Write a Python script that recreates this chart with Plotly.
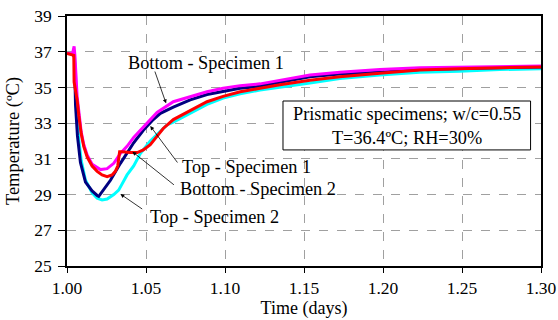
import plotly.graph_objects as go

# ---------------- data ----------------
t_top1 = [1.0000, 1.0035, 1.0047, 1.0054, 1.0066, 1.0085, 1.0117, 1.0159, 1.0191, 1.0201,
          1.0275, 1.0338, 1.0422, 1.0483, 1.0546, 1.0591, 1.0673, 1.0780, 1.0886, 1.0988,
          1.1096, 1.1201, 1.1348, 1.1538, 1.1727, 1.1980, 1.2233, 1.2485, 1.2738, 1.3000]
T_top1 = [36.9, 36.9, 36.7, 34.0, 32.3, 30.8, 29.7, 29.2, 28.95, 28.9,
          29.8, 30.75, 31.9, 32.6, 33.2, 33.55, 33.9, 34.3, 34.6, 34.76,
          34.95, 35.05, 35.3, 35.6, 35.75, 35.85, 36.0, 36.05, 36.1, 36.15]

t_bot1 = [1.0000, 1.0035, 1.0045, 1.0050, 1.0064, 1.0075, 1.0090, 1.0106, 1.0128, 1.0159,
          1.0191, 1.0212, 1.0254, 1.0296, 1.0338, 1.0380, 1.0422, 1.0464, 1.0507, 1.0570,
          1.0673, 1.0780, 1.0886, 1.0988, 1.1096, 1.1222, 1.1348, 1.1538, 1.1727, 1.1980,
          1.2233, 1.2485, 1.2738, 1.3000]
T_bot1 = [36.9, 36.9, 37.3, 36.8, 34.5, 33.5, 32.5, 31.8, 31.2, 30.7,
          30.5, 30.4, 30.45, 30.75, 31.3, 31.7, 32.2, 32.6, 33.0, 33.6,
          34.2, 34.5, 34.76, 34.95, 35.1, 35.2, 35.4, 35.7, 35.85, 36.0,
          36.1, 36.12, 36.15, 36.2]

t_bot2 = [1.0000, 1.0035, 1.0043, 1.0045, 1.0064, 1.0075, 1.0090, 1.0106, 1.0128, 1.0159,
          1.0191, 1.0222, 1.0254, 1.0285, 1.0306, 1.0321, 1.0333, 1.0351, 1.0400, 1.0445,
          1.0483, 1.0527, 1.0570, 1.0609, 1.0673, 1.0780, 1.0886, 1.0988, 1.1096, 1.1222,
          1.1348, 1.1538, 1.1727, 1.1980, 1.2233, 1.2485, 1.2738, 1.3000]
T_bot2 = [36.9, 36.8, 36.8, 35.3, 34.3, 33.4, 32.4, 31.7, 31.1, 30.6,
          30.3, 30.1, 30.0, 30.1, 30.3, 30.6, 31.4, 31.4, 31.35, 31.35,
          31.5, 31.8, 32.3, 32.7, 33.2, 33.7, 34.2, 34.5, 34.76, 34.95,
          35.15, 35.4, 35.6, 35.8, 35.97, 36.05, 36.1, 36.15]

t_top2 = [1.0000, 1.0035, 1.0047, 1.0054, 1.0060, 1.0075, 1.0090, 1.0117, 1.0159, 1.0191,
          1.0222, 1.0254, 1.0296, 1.0327, 1.0349, 1.0380, 1.0422, 1.0464, 1.0527, 1.0633,
          1.0673, 1.0780, 1.0886, 1.0988, 1.1096, 1.1222, 1.1348, 1.1538, 1.1727, 1.1980,
          1.2233, 1.2485, 1.2738, 1.3000]
T_top2 = [36.9, 36.9, 36.8, 35.8, 33.9, 32.05, 30.9, 29.8, 29.1, 28.8,
          28.7, 28.75, 29.0, 29.25, 29.6, 30.1, 30.6, 31.3, 32.0, 32.9,
          33.05, 33.55, 34.05, 34.4, 34.65, 34.85, 35.0, 35.25, 35.5, 35.7,
          35.85, 35.9, 36.0, 36.05]

series = [
    ("Top - Specimen 2", t_top2, T_top2, "#00FFFF"),
    ("Top - Specimen 1", t_top1, T_top1, "#000080"),
    ("Bottom - Specimen 1", t_bot1, T_bot1, "#FF00FF"),
    ("Bottom - Specimen 2", t_bot2, T_bot2, "#FF0000"),
]

x_ticks = [1.00, 1.05, 1.10, 1.15, 1.20, 1.25, 1.30]
y_ticks = [25, 27, 29, 31, 33, 35, 37, 39]

FONT = "Times New Roman"

fig = go.Figure()
for name, xs, ys, col in series:
    fig.add_trace(go.Scatter(x=xs, y=ys, mode="lines", name=name,
                             line=dict(color=col, width=3), showlegend=False))

# labels with arrows: (text, tip x, tip y, tail dx, tail dy, text x, text y)
labels = [
    ("Bottom - Specimen 1", 1.0627, 34.11, -11.7, -33.3, 1.0374, 36.37),
    ("Top - Specimen 1", 1.0527, 32.84, 28.3, 38, 1.0717, 30.55),
    ("Bottom - Specimen 2", 1.0414, 31.40, 43, 34.3, 1.0704, 29.31),
    ("Top - Specimen 2", 1.0338, 29.03, 23.3, 16, 1.0510, 27.75),
]
for txt, tx, ty, dx, dy, lx, ly in labels:
    fig.add_annotation(x=tx, y=ty, ax=dx, ay=dy, text="", showarrow=True,
                       arrowhead=2, arrowsize=1, arrowwidth=0.8, arrowcolor="black")
    fig.add_annotation(x=lx, y=ly, text=txt, showarrow=False, xanchor="left",
                       yanchor="middle", font=dict(family=FONT, size=18.3, color="black"))

# info box
fig.add_shape(type="rect", x0=1.1367, x1=1.2934, y0=31.50, y1=34.24,
              line=dict(color="black", width=1), fillcolor="white")
fig.add_annotation(x=1.2150, y=32.82, text="Prismatic specimens; w/c=0.55<br>T=36.4ºC; RH=30%",
                   showarrow=False, xanchor="center", yanchor="middle", align="center",
                   font=dict(family=FONT, size=18.3, color="black"))

fig.update_layout(
    width=558, height=320,
    margin=dict(l=66.5, r=16.5, t=16, b=54),
    paper_bgcolor="white", plot_bgcolor="white",
    font=dict(family=FONT, size=17, color="black"),
)
fig.update_xaxes(range=[1.0, 1.3], tickvals=x_ticks, tickformat=".2f", automargin=False,
                 tickfont=dict(family=FONT, size=17.5),
                 showgrid=True, gridcolor="#a0a0a0", griddash="dash", gridwidth=1,
                 showline=True, linecolor="black", linewidth=1.5, mirror=True,
                 ticks="outside", ticklen=5, tickcolor="black", zeroline=False,
                 title=dict(text="Time (days)", font=dict(family=FONT, size=18), standoff=0))
fig.update_yaxes(range=[25, 39], tickvals=y_ticks, automargin=False,
                 tickfont=dict(family=FONT, size=17.5),
                 showgrid=True, gridcolor="#a0a0a0", griddash="dash", gridwidth=1,
                 showline=True, linecolor="black", linewidth=1.5, mirror=True,
                 ticks="outside", ticklen=7, tickcolor="black", zeroline=False,
                 ticklabelstandoff=3,
                 title=dict(text="Temperature (ºC)", font=dict(family=FONT, size=18.5), standoff=10))

fig.write_html("out.html", config={"displayModeBar": False},
               post_script="document.body.style.margin='0';")
